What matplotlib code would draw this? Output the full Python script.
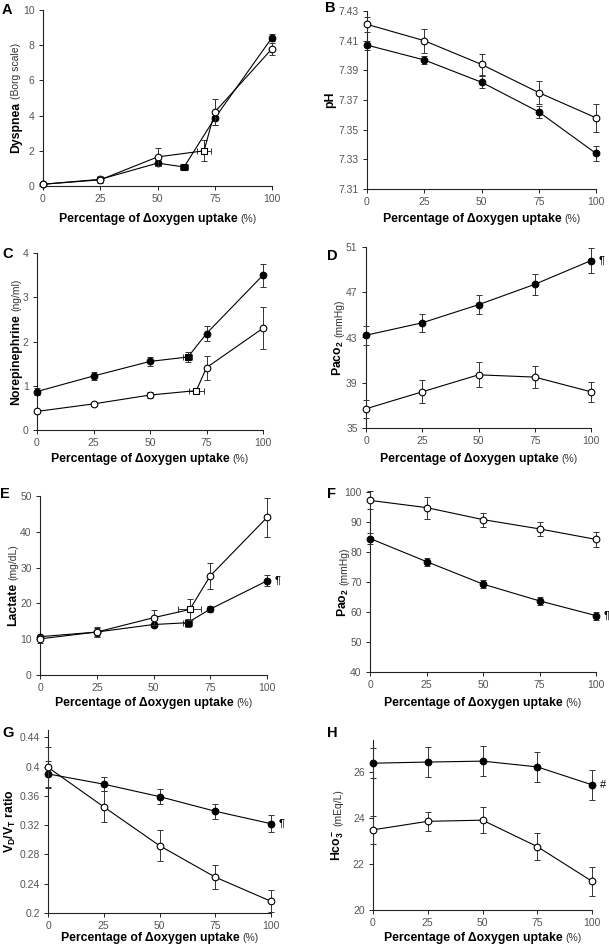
import numpy as np
import matplotlib
matplotlib.use("Agg")
import matplotlib.pyplot as plt
from matplotlib.transforms import IdentityTransform

W, H = 609, 951

plt.rcParams["font.family"] = ["Liberation Sans", "DejaVu Sans"]
plt.rcParams["mathtext.fontset"] = "custom"
plt.rcParams["mathtext.rm"] = "Liberation Sans"
plt.rcParams["mathtext.bf"] = "Liberation Sans:bold"
plt.rcParams["mathtext.it"] = "Liberation Sans:italic"

pct = [0, 25, 50, 75, 100]
pct_ticks = [0, 25, 50, 75, 100]

# A - dyspnea (square = ventilatory threshold, index 3)
dysp_x_fill = [0, 25, 50, 61.6, 75, 100]
dysp_fill = [0.1, 0.38, 1.3, 1.08, 3.85, 8.43]
dysp_fill_err = [0.05, 0.1, 0.15, 0.15, 0.4, 0.18]
dysp_fill_xerr = 1.8
dysp_x_open = [0, 25, 50, 70.3, 75, 100]
dysp_open = [0.1, 0.35, 1.65, 2.0, 4.2, 7.8]
dysp_open_err = [0.05, 0.2, 0.5, 0.6, 0.75, 0.35]
dysp_open_xerr = 3.1

# B - pH
ph_fill = [7.407, 7.397, 7.382, 7.362, 7.334]
ph_fill_err = [0.003, 0.003, 0.004, 0.004, 0.005]
ph_open = [7.421, 7.410, 7.394, 7.375, 7.358]
ph_open_err = [0.005, 0.008, 0.007, 0.008, 0.0095]

# C - norepinephrine
ne_x_fill = [0, 25, 50, 66.8, 75, 100]
ne_fill = [0.87, 1.22, 1.55, 1.65, 2.18, 3.5]
ne_fill_err = [0.08, 0.08, 0.11, 0.11, 0.16, 0.26]
ne_fill_xerr = 2.0
ne_x_open = [0, 25, 50, 70.5, 75, 100]
ne_open = [0.42, 0.59, 0.79, 0.89, 1.41, 2.3]
ne_open_err = [0.03, 0.04, 0.07, 0.07, 0.27, 0.47]
ne_open_xerr = 3.3

# D - PaCO2
paco2_fill = [43.2, 44.3, 45.9, 47.7, 49.8]
paco2_fill_err = [0.85, 0.8, 0.85, 0.95, 1.1]
paco2_open = [36.7, 38.2, 39.7, 39.5, 38.2]
paco2_open_err = [0.8, 1.0, 1.1, 1.0, 0.9]

# E - lactate
lac_x_fill = [0, 25, 50, 65.0, 75, 100]
lac_fill = [10.7, 12.0, 14.1, 14.6, 18.4, 26.3]
lac_fill_err = [0.6, 1.0, 0.8, 1.1, 0.8, 1.5]
lac_fill_xerr = 2.0
lac_x_open = [0, 25, 50, 66.0, 75, 100]
lac_open = [10.1, 12.0, 16.0, 18.3, 27.7, 44.0]
lac_open_err = [1.2, 1.5, 2.1, 3.0, 3.7, 5.5]
lac_open_xerr = 5.1

# F - PaO2
pao2_fill = [84.5, 76.8, 69.3, 63.7, 58.8]
pao2_fill_err = [1.7, 1.3, 1.3, 1.3, 1.3]
pao2_open = [97.2, 94.8, 90.8, 87.7, 84.2]
pao2_open_err = [3.0, 3.7, 2.3, 2.2, 2.6]

# G - VD/VT
vdvt_fill = [0.390, 0.376, 0.359, 0.339, 0.322]
vdvt_fill_err = [0.018, 0.010, 0.010, 0.010, 0.012]
vdvt_open = [0.399, 0.345, 0.292, 0.249, 0.216]
vdvt_open_err = [0.028, 0.021, 0.021, 0.016, 0.015]

# H - HCO3-
hco3_fill = [26.39, 26.44, 26.48, 26.23, 25.45]
hco3_fill_err = [0.65, 0.65, 0.65, 0.64, 0.65]
hco3_open = [23.49, 23.86, 23.91, 22.76, 21.25]
hco3_open_err = [0.6, 0.4, 0.57, 0.6, 0.64]

XLAB = ("Percentage of \u0394oxygen uptake", "(%)")

panels = [
    dict(letter="A", let_xy=(2, 14), box=(43, 10, 272, 186), ylim=(0, 10),
         yticks=[0, 2, 4, 6, 8, 10], ytl=None, ylab=("Dyspnea", "(Borg scale)"), ylab_x=19, xlab_y=222,
         fill=(dysp_x_fill, dysp_fill, dysp_fill_err, 3, dysp_fill_xerr),
         open=(dysp_x_open, dysp_open, dysp_open_err, 3, dysp_open_xerr), mark=None),
    dict(letter="B", let_xy=(325, 12), box=(367, 11, 596, 189), ylim=(7.31, 7.43),
         yticks=[7.31, 7.33, 7.35, 7.37, 7.39, 7.41, 7.43], ytl=None, ylab=("pH", ""), ylab_x=333, xlab_y=222,
         fill=(pct, ph_fill, ph_fill_err, None, 0), open=(pct, ph_open, ph_open_err, None, 0), mark=None),
    dict(letter="C", let_xy=(2, 258), box=(37, 253, 263, 430), ylim=(0, 4),
         yticks=[0, 1, 2, 3, 4], ytl=None, ylab=("Norepinephrine", "(ng/ml)"), ylab_x=19, xlab_y=462,
         fill=(ne_x_fill, ne_fill, ne_fill_err, 3, ne_fill_xerr),
         open=(ne_x_open, ne_open, ne_open_err, 3, ne_open_xerr), mark=None),
    dict(letter="D", let_xy=(327, 260), box=(366, 247, 591, 428), ylim=(35, 51),
         yticks=[35, 39, 43, 47, 51], ytl=None, ylab=(r"$\mathbf{Paco_2}$", "(mmHg)"), ylab_x=342, xlab_y=462,
         fill=(pct, paco2_fill, paco2_fill_err, None, 0), open=(pct, paco2_open, paco2_open_err, None, 0),
         mark="\u00b6"),
    dict(letter="E", let_xy=(0, 498), box=(40, 496, 267, 675), ylim=(0, 50),
         yticks=[0, 10, 20, 30, 40, 50], ytl=None, ylab=("Lactate", "(mg/dL)"), ylab_x=16, xlab_y=706,
         fill=(lac_x_fill, lac_fill, lac_fill_err, 3, lac_fill_xerr),
         open=(lac_x_open, lac_open, lac_open_err, 3, lac_open_xerr), mark="\u00b6"),
    dict(letter="F", let_xy=(327, 498), box=(370, 492, 596, 672), ylim=(40, 100),
         yticks=[40, 50, 60, 70, 80, 90, 100], ytl=None, ylab=(r"$\mathbf{Pao_2}$", "(mmHg)"), ylab_x=347,
         xlab_y=706, fill=(pct, pao2_fill, pao2_fill_err, None, 0), open=(pct, pao2_open, pao2_open_err, None, 0),
         mark="\u00b6"),
    dict(letter="G", let_xy=(2, 737), box=(48, 730, 271, 913), ylim=(0.2, 0.45),
         yticks=[0.2, 0.24, 0.28, 0.32, 0.36, 0.4, 0.44],
         ytl=["0.2", "0.24", "0.28", "0.32", "0.36", "0.4", "0.44"],
         ylab=(r"$\mathbf{V_D/V_T}$ ratio", ""), ylab_x=14, xlab_y=941,
         fill=(pct, vdvt_fill, vdvt_fill_err, None, 0), open=(pct, vdvt_open, vdvt_open_err, None, 0),
         mark="\u00b6"),
    dict(letter="H", let_xy=(327, 737), box=(373, 740, 592, 910), ylim=(20, 27.4),
         yticks=[20, 22, 24, 26], ytl=None, ylab=(r"$\mathbf{Hco_3^-}$", "(mEq/L)"), ylab_x=341, xlab_y=941,
         fill=(pct, hco3_fill, hco3_fill_err, None, 0), open=(pct, hco3_open, hco3_open_err, None, 0),
         mark="#"),
]


def draw_series(ax, x, y, yerr, sq, xerr, filled):
    x = np.asarray(x, float)
    y = np.asarray(y, float)
    fc = "black" if filled else "white"
    z = 4 if filled else 6
    ax.errorbar(x, y, yerr=yerr, fmt="none", ecolor="#333333", elinewidth=0.7,
                capsize=2.2, capthick=0.7, zorder=z - 1, clip_on=False)
    if sq is not None:
        ax.errorbar(x[sq], y[sq], xerr=xerr, fmt="none", ecolor="#333333", elinewidth=0.7,
                    capsize=2.2, capthick=0.7, zorder=z - 1, clip_on=False)
    ax.plot(x, y, color="black", lw=0.8, zorder=z - 1, clip_on=False)
    circ = [i for i in range(len(x)) if i != sq]
    ax.plot(x[circ], y[circ], "o", ms=4.8, mfc=fc, mec="black", mew=0.8, zorder=z, clip_on=False)
    if sq is not None:
        ax.plot(x[sq], y[sq], "s", ms=4.4, mfc=fc, mec="black", mew=0.8, zorder=z, clip_on=False)


def pair_text(fig, bold, unit, x, y, vertical, gap=3):
    # bold label followed by a smaller plain unit, sharing one baseline
    kw = dict(transform=IdentityTransform(), rotation=90 if vertical else 0,
              rotation_mode="anchor", ha="left", va="baseline")
    parts = [fig.text(0, 0, bold, fontsize=8.8, fontweight="bold", **kw)]
    if unit:
        parts.append(fig.text(0, 0, unit, fontsize=7.5, color="#333333", **kw))
    r = fig.canvas.get_renderer()
    lens = []
    for t in parts:
        bb = t.get_window_extent(r)
        lens.append(bb.height if vertical else bb.width)
    total = sum(lens) + gap * (len(parts) - 1)
    if vertical:
        pos = (H - y) - total / 2
        for t, L in zip(parts, lens):
            t.set_position((x, pos))
            pos += L + gap
    else:
        pos = x - total / 2
        for t, L in zip(parts, lens):
            t.set_position((pos, H - y))
            pos += L + gap


fig = plt.figure(figsize=(W / 100, H / 100), dpi=100)

for p in panels:
    l, t, r, b = p["box"]
    ax = fig.add_axes([l / W, 1 - b / H, (r - l) / W, (b - t) / H])
    ax.set_xlim(0, 100)
    ax.set_ylim(*p["ylim"])
    for s in ["top", "right"]:
        ax.spines[s].set_visible(False)
    for s in ["left", "bottom"]:
        ax.spines[s].set_linewidth(0.8)
        ax.spines[s].set_color("#222222")
    ax.set_xticks(pct_ticks)
    ax.set_yticks(p["yticks"])
    if p["ytl"] is not None:
        ax.set_yticklabels(p["ytl"])
    ax.tick_params(direction="out", length=3, width=0.7, color="#222222",
                   labelsize=7.5, labelcolor="#555555", pad=3)

    fx, fy, fe, fsq, fxe = p["fill"]
    draw_series(ax, fx, fy, fe, fsq, fxe, True)
    ox, oy, oe, osq, oxe = p["open"]
    draw_series(ax, ox, oy, oe, osq, oxe, False)

    if p["mark"]:
        ax.annotate(p["mark"], xy=(fx[-1], fy[-1]), xytext=(5.5, 0), textcoords="offset points",
                    fontsize=8, va="center", ha="left", annotation_clip=False)

    fig.text(p["let_xy"][0], H - p["let_xy"][1], p["letter"], transform=IdentityTransform(),
             fontsize=10.5, fontweight="bold", ha="left", va="baseline")
    pair_text(fig, p["ylab"][0], p["ylab"][1], p["ylab_x"], (t + b) / 2, True)
    pair_text(fig, XLAB[0], XLAB[1], (l + r) / 2, p["xlab_y"], False)

fig.savefig("out.png", dpi=100, facecolor="white")
